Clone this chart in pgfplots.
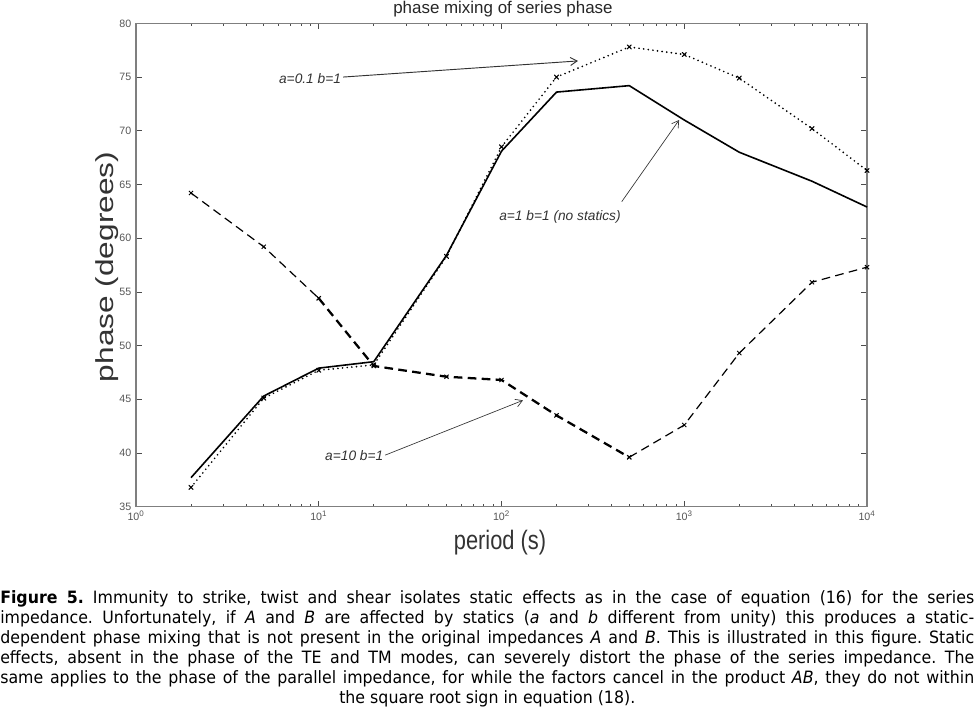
\documentclass[border=0pt]{standalone}
\usepackage{pgfplots}
\pgfplotsset{compat=1.18}
\usepackage{fontspec}
\usetikzlibrary{arrows.meta}
\setmainfont{DejaVu Sans}[FakeStretch=0.93]
\newfontfamily\chartfont{Liberation Sans}
\newfontfamily\narrowfont{Liberation Sans}[FakeStretch=0.82]
\definecolor{axisgray}{HTML}{7F7F7F}
\definecolor{ticktext}{HTML}{555555}
\definecolor{notegray}{HTML}{333333}

\begin{document}
\begin{tikzpicture}
\path[use as bounding box] (0,0) rectangle (730.5pt,-531pt);
\begin{axis}[
    at={(102pt,-380pt)}, anchor=south west,
    scale only axis, width=548.25pt, height=362.5pt,
    xmode=log, xmin=1, xmax=10000, ymin=35, ymax=80,
    ytick={35,40,...,80},
    xtick={1,10,100,1000,10000},
    xticklabels={10\textsuperscript{0},10\textsuperscript{1},10\textsuperscript{2},10\textsuperscript{3},10\textsuperscript{4}},
    axis line style={axisgray, line width=0.9pt},
    every tick/.style={black!70, line width=0.5pt},
    major tick length=4.5pt, minor tick length=2pt,
    tick label style={font=\chartfont\fontsize{8}{9}\selectfont, text=ticktext},
    /pgf/number format/assume math mode=true,
    every axis title shift=0pt,
    title={phase mixing of series phase},
    title style={at={(axis description cs:0.502,1.0296)}, anchor=center,
        font=\chartfont\fontsize{12.7}{14}\selectfont, text=black!85},
    xlabel={period (s)},
    xlabel style={at={(axis description cs:0.498,-0.0745)}, anchor=center,
        font=\narrowfont\fontsize{20}{22}\selectfont, text=black!80},
    ylabel={\scalebox{1}[0.78]{phase (degrees)}},
    ylabel style={at={(axis description cs:-0.0397,0.496)}, anchor=center,
        font=\chartfont\fontsize{23.7}{26}\selectfont, text=black!80},
    clip=false,
]
% a=1 b=1 (no statics)
\addplot[black, line width=1.2pt] coordinates {
    (2,37.7) (5,45.3) (10,47.9) (20,48.5) (50,58.4) (100,68.1)
    (200,73.6) (500,74.2) (1000,71.0) (2000,68.0) (5000,65.3) (10000,62.9)};
% a=0.1 b=1
\addplot[black, line width=1.4pt, line cap=round, dash pattern=on 0pt off 3.5pt,
    mark=x, mark size=2.2pt, mark options={solid, line width=0.8pt}] coordinates {
    (2,36.8) (5,45.1) (10,47.7) (20,48.2) (50,58.3) (100,68.5)
    (200,75.0) (500,77.8) (1000,77.1) (2000,74.9) (5000,70.2) (10000,66.3)};
% a=10 b=1 (thin / thick / thin pieces)
\addplot[black, line width=0.9pt, dash pattern=on 6.5pt off 4pt,
    mark=x, mark size=2.2pt, mark options={solid, line width=0.7pt}] coordinates {
    (2,64.2) (5,59.2) (10,54.4)};
\addplot[black, line width=1.7pt, dash pattern=on 6.5pt off 4pt,
    mark=x, mark size=2.2pt, mark options={solid, line width=0.7pt}] coordinates {
    (10,54.4) (20,48.1) (50,47.1) (100,46.8) (200,43.5) (500,39.6)};
\addplot[black, line width=0.9pt, dash pattern=on 6.5pt off 4pt,
    mark=x, mark size=2.2pt, mark options={solid, line width=0.7pt}] coordinates {
    (500,39.6) (1000,42.6) (2000,49.3) (5000,55.9) (10000,57.3)};

% annotations
\draw[notegray, line width=0.7pt, -{Straight Barb[length=5pt,width=6pt]}]
    (axis cs:13.6,75.0) -- (axis cs:262,76.5);
\node[anchor=east, inner sep=1pt, text=notegray,
    font=\chartfont\itshape\fontsize{10.3}{12}\selectfont] at (axis cs:13.5,74.9) {a=0.1 b=1};
\draw[notegray, line width=0.5pt, -{Straight Barb[length=5pt,width=6pt]}]
    (axis cs:455,63.4) -- (axis cs:937,71.0);
\node[inner sep=1pt, text=notegray,
    font=\chartfont\itshape\fontsize{10.3}{12}\selectfont] at (axis cs:209,62.0) {a=1 b=1 (no statics)};
\draw[notegray, line width=0.5pt, -{Straight Barb[length=5pt,width=6pt]}]
    (axis cs:23.1,39.8) -- (axis cs:131,44.9);
\node[anchor=east, inner sep=1pt, text=notegray,
    font=\chartfont\itshape\fontsize{10.3}{12}\selectfont] at (axis cs:23,39.8) {a=10 b=1};
\end{axis}

% caption, lines broken as in the original
\node[anchor=north west, inner sep=0pt, text width=730.5pt, align=center,
    font=\fontsize{12.75}{15}\selectfont] at (0pt,-442.5pt) {%
\frenchspacing\spaceskip=0.3em plus 1em minus 0.1em\relax
\makebox[730.5pt][s]{\textbf{Figure 5.} Immunity to strike, twist and shear isolates static effects as in the case of equation (16) for the series}\\
\makebox[730.5pt][s]{impedance. Unfortunately, if \textit{A} and \textit{B} are affected by statics (\textit{a} and \textit{b} different from unity) this produces a static-}\\
\makebox[730.5pt][s]{dependent phase mixing that is not present in the original impedances \textit{A} and \textit{B}. This is illustrated in this figure. Static}\\
\makebox[730.5pt][s]{effects, absent in the phase of the TE and TM modes, can severely distort the phase of the series impedance. The}\\
\makebox[730.5pt][s]{same applies to the phase of the parallel impedance, for while the factors cancel in the product \textit{AB}, they do not within}\\
\makebox[730.5pt][c]{\spaceskip=0pt\relax the square root sign in equation (18).}};
\end{tikzpicture}
\end{document}
